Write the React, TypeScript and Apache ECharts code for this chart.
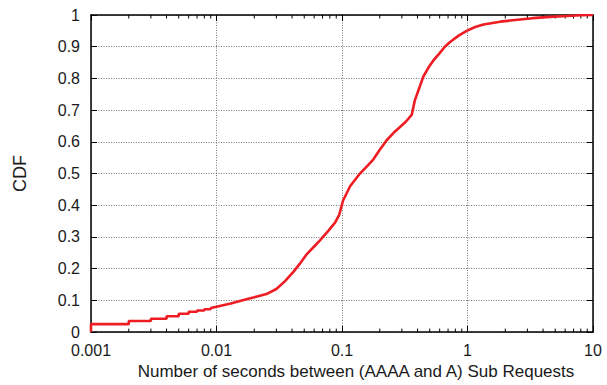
import React, { useEffect, useRef } from "react";
import * as echarts from "echarts";

const xTickLabels = ["0.001", "0.01", "0.1", "1", "10"];
const yTickLabels = ["0", "0.1", "0.2", "0.3", "0.4", "0.5", "0.6", "0.7", "0.8", "0.9", "1"];

// CDF samples [seconds, cumulative fraction]
const cdfX = [
  0.001, 0.001, 0.002, 0.002, 0.003, 0.003, 0.004, 0.004, 0.005, 0.005, 0.006, 0.006,
  0.007, 0.007, 0.008, 0.008, 0.009, 0.009, 0.01,
  0.013, 0.017, 0.02, 0.025, 0.03, 0.035, 0.041, 0.046, 0.052, 0.06, 0.067, 0.078, 0.088, 0.095, 0.102,
  0.116, 0.139, 0.16, 0.178, 0.2, 0.227, 0.26, 0.29, 0.325, 0.36, 0.38, 0.406, 0.445, 0.49, 0.533,
  0.6, 0.66, 0.726, 0.85, 0.985, 1.15, 1.34, 1.82, 2.5, 3.3, 4.5, 6.2, 8, 10,
];
const cdfY = [
  0.0, 0.025, 0.025, 0.035, 0.035, 0.042, 0.042, 0.05, 0.05, 0.058, 0.058, 0.064,
  0.064, 0.068, 0.068, 0.072, 0.072, 0.076, 0.08,
  0.09, 0.103, 0.11, 0.12, 0.136, 0.16, 0.19, 0.215, 0.244, 0.27, 0.29, 0.32, 0.345, 0.37, 0.415,
  0.46, 0.5, 0.525, 0.545, 0.575, 0.605, 0.63, 0.647, 0.665, 0.686, 0.73, 0.762, 0.806, 0.835, 0.856,
  0.88, 0.9, 0.915, 0.935, 0.95, 0.962, 0.97, 0.979, 0.985, 0.99, 0.994, 0.997, 0.999, 1.0,
];

const minorTickX = [
  0.002, 0.003, 0.004, 0.005, 0.006, 0.007, 0.008, 0.009,
  0.02, 0.03, 0.04, 0.05, 0.06, 0.07, 0.08, 0.09,
  0.2, 0.3, 0.4, 0.5, 0.6, 0.7, 0.8, 0.9,
  2, 3, 4, 5, 6, 7, 8, 9,
];

export default function App() {
  const ref = useRef<HTMLDivElement>(null);
  useEffect(() => {
    if (!ref.current) return;
    const chart = echarts.init(ref.current, null, { renderer: "svg" });
    const font = "'Liberation Sans', Arial, Helvetica, sans-serif";
    const labelFmt = (v: number) => {
      const k = Math.round(Math.log10(v)) + 3;
      return xTickLabels[k] ?? "";
    };
    const gridLine = { show: true, lineStyle: { color: "#777", type: [1, 1.5] as any, width: 1 } };
    const axisLine = { show: true, onZero: false, lineStyle: { color: "#000", width: 1.5 } };
    chart.setOption({
      animation: false,
      backgroundColor: "#fff",
      grid: { left: 91, right: 14, top: 15, bottom: 46, containLabel: false },
      xAxis: [
        {
          type: "log",
          logBase: 10,
          min: 0.001,
          max: 10,
          position: "bottom",
          axisLine,
          axisTick: { show: true, inside: true, length: 6, lineStyle: { color: "#000", width: 1 } },
          splitLine: gridLine,
          axisLabel: { formatter: labelFmt, fontFamily: font, fontSize: 16, color: "#1a1a1a", margin: 10 },
          name: "Number of seconds between (AAAA and A) Sub Requests",
          nameLocation: "middle",
          nameGap: 21,
          nameTextStyle: { fontFamily: font, fontSize: 17, color: "#1a1a1a", padding: [0, 0, 0, 28] },
        },
        {
          type: "log",
          logBase: 10,
          min: 0.001,
          max: 10,
          position: "top",
          axisLine,
          axisTick: { show: true, inside: true, length: 6, lineStyle: { color: "#000", width: 1 } },
          splitLine: { show: false },
          axisLabel: { show: false },
        },
      ],
      yAxis: [
        {
          type: "value",
          min: 0,
          max: 1,
          interval: 0.1,
          position: "left",
          axisLine,
          axisTick: { show: true, inside: true, length: 6, lineStyle: { color: "#000", width: 1 } },
          splitLine: gridLine,
          axisLabel: {
            formatter: (v: number) => yTickLabels[Math.round(v * 10)] ?? "",
            fontFamily: font,
            fontSize: 16,
            color: "#1a1a1a",
            margin: 11,
          },
          name: "CDF",
          nameLocation: "middle",
          nameGap: 62,
          nameTextStyle: { fontFamily: font, fontSize: 18, color: "#1a1a1a" },
        },
        {
          type: "value",
          min: 0,
          max: 1,
          interval: 0.1,
          position: "right",
          axisLine,
          axisTick: { show: true, inside: true, length: 6, lineStyle: { color: "#000", width: 1 } },
          splitLine: { show: false },
          axisLabel: { show: false },
        },
      ],
      series: [
        {
          type: "custom",
          xAxisIndex: 0,
          yAxisIndex: 0,
          silent: true,
          data: minorTickX.map((x) => [x, 0]),
          renderItem: (params: any, api: any) => {
            const x = api.value(0);
            const b = api.coord([x, 0]);
            const t = api.coord([x, 1]);
            const style = { stroke: "#000", lineWidth: 1 };
            return {
              type: "group",
              children: [
                { type: "line", shape: { x1: b[0], y1: b[1], x2: b[0], y2: b[1] - 3.5 }, style },
                { type: "line", shape: { x1: t[0], y1: t[1], x2: t[0], y2: t[1] + 3.5 }, style },
              ],
            };
          },
          z: 5,
        },
        {
          type: "line",
          xAxisIndex: 0,
          yAxisIndex: 0,
          data: cdfX.map((x, i) => [x, cdfY[i]]),
          showSymbol: false,
          symbol: "none",
          lineStyle: { color: "#ee1d24", width: 2.6 },
          z: 10,
        },
      ],
    });
    return () => chart.dispose();
  }, []);
  return (
    <div
      ref={ref}
      style={{ position: "fixed", left: 0, top: 0, width: 607, height: 385, overflow: "hidden" }}
    />
  );
}
